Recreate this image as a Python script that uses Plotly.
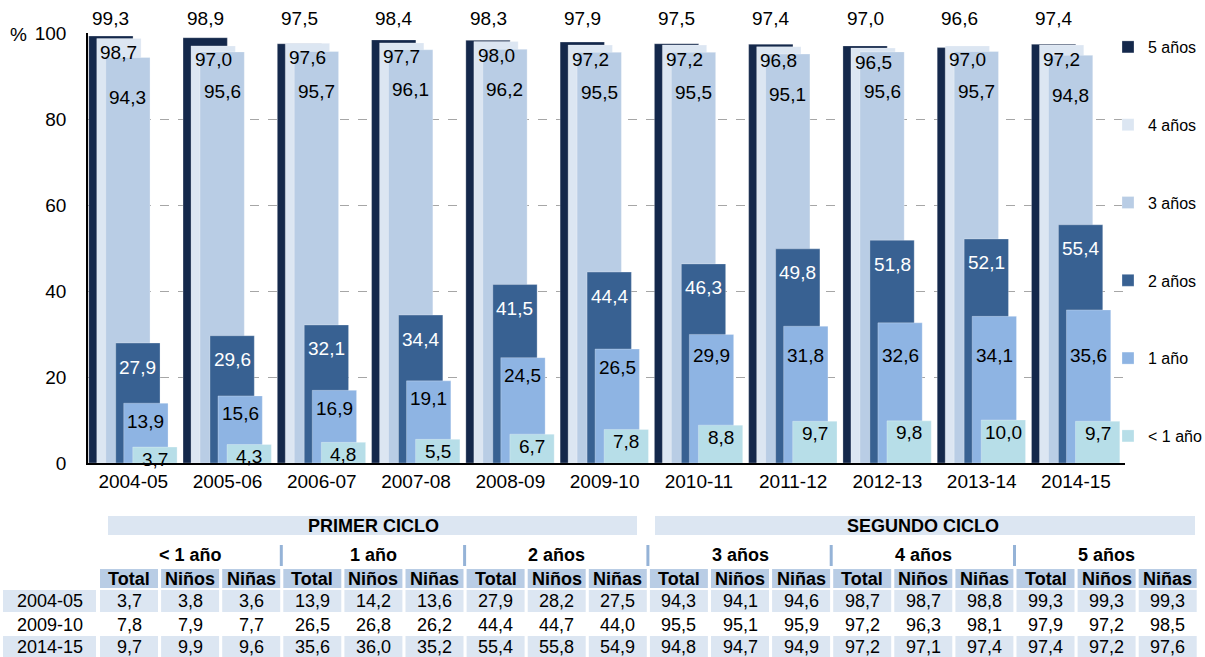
import plotly.graph_objects as go

# ---------------- data ----------------
years = ['2004-05', '2005-06', '2006-07', '2007-08', '2008-09', '2009-10',
         '2010-11', '2011-12', '2012-13', '2013-14', '2014-15']
series_names = ['5 años', '4 años', '3 años', '2 años', '1 año', '< 1 año']
v5 = [99.3, 98.9, 97.5, 98.4, 98.3, 97.9, 97.5, 97.4, 97.0, 96.6, 97.4]
v4 = [98.7, 97.0, 97.6, 97.7, 98.0, 97.2, 97.2, 96.8, 96.5, 97.0, 97.2]
v3 = [94.3, 95.6, 95.7, 96.1, 96.2, 95.5, 95.5, 95.1, 95.6, 95.7, 94.8]
v2 = [27.9, 29.6, 32.1, 34.4, 41.5, 44.4, 46.3, 49.8, 51.8, 52.1, 55.4]
v1 = [13.9, 15.6, 16.9, 19.1, 24.5, 26.5, 29.9, 31.8, 32.6, 34.1, 35.6]
v0 = [3.7, 4.3, 4.8, 5.5, 6.7, 7.8, 8.8, 9.7, 9.8, 10.0, 9.7]
y_ticks = [0, 20, 40, 60, 80, 100]

table_years = ['2004-05', '2009-10', '2014-15']
cycles = ['PRIMER CICLO', 'SEGUNDO CICLO']
age_groups = ['< 1 año', '1 año', '2 años', '3 años', '4 años', '5 años']
sub_headers = ['Total', 'Niños', 'Niñas']
row_2004 = [3.7, 3.8, 3.6, 13.9, 14.2, 13.6, 27.9, 28.2, 27.5,
            94.3, 94.1, 94.6, 98.7, 98.7, 98.8, 99.3, 99.3, 99.3]
row_2009 = [7.8, 7.9, 7.7, 26.5, 26.8, 26.2, 44.4, 44.7, 44.0,
            95.5, 95.1, 95.9, 97.2, 96.3, 98.1, 97.9, 97.2, 98.5]
row_2014 = [9.7, 9.9, 9.6, 35.6, 36.0, 35.2, 55.4, 55.8, 54.9,
            94.8, 94.7, 94.9, 97.2, 97.1, 97.4, 97.4, 97.2, 97.6]
table_rows = [row_2004, row_2009, row_2014]

# ---------------- styles ----------------
FONT = 'Liberation Sans, Arial, sans-serif'
colors = ['#14284B', '#DCE6F2', '#B9CDE5', '#386192', '#8EB4E3', '#B7DEE8']
offsets = [-0.472, -0.387, -0.292, -0.186, -0.101, -0.005]
BAR_W = 0.47
label_colors = ['black', 'black', 'black', 'white', 'black', 'black']
CH = 19  # chart font size

def fmt(v):
    return f'{v:.1f}'.replace('.', ',')

L, R, T, B = 88, 1125, 33, 463
W_FIG, H_FIG = 1205, 657

def fx(p):
    return (p - L) / (R - L)

def fy(p):
    return (B - p) / (B - T)

fig = go.Figure()
values = [v5, v4, v3, v2, v1, v0]
xs = list(range(len(years)))
for name, vals, col, off in zip(series_names, values, colors, offsets):
    fig.add_trace(go.Bar(
        x=xs, y=vals, name=name, width=BAR_W, offset=off,
        marker=dict(color=col, line=dict(color='rgba(255,255,255,0.35)', width=0.8)),
        legendgroup=name, hoverinfo='skip'))

# value labels
for k, (vals, off) in enumerate(zip(values, offsets)):
    for i, v in enumerate(vals):
        xc = i + off + BAR_W / 2
        if k == 0:
            y, ys = 100, 15
        elif k == 1:
            y, ys = v, -14
        elif k == 2:
            y, ys = v, -40
        elif k == 3:
            y, ys = v, -24
        elif k == 4:
            y, ys = min(v, 29.1), -18
        else:
            y, ys = v, -12
        fig.add_annotation(x=xc, y=y, xref='x', yref='y', yshift=ys, text=fmt(v),
                           showarrow=False, xanchor='center', yanchor='middle',
                           font=dict(family=FONT, size=CH, color=label_colors[k]))

# % sign
fig.add_annotation(xref='paper', yref='paper', x=fx(18), y=fy(34), text='%', showarrow=False,
                   xanchor='center', yanchor='middle', font=dict(family=FONT, size=CH, color='black'))

# ---------------- table ----------------
def rect(x0, y0, x1, y1, color):
    fig.add_shape(type='rect', xref='paper', yref='paper', x0=fx(x0), x1=fx(x1),
                  y0=fy(y1), y1=fy(y0), fillcolor=color, line_width=0, layer='below')

def text(xc, yc, s, bold=False):
    fig.add_annotation(xref='paper', yref='paper', x=fx(xc), y=fy(yc),
                       text=f'<b>{s}</b>' if bold else s, showarrow=False,
                       xanchor='center', yanchor='middle',
                       font=dict(family=FONT, size=18, color='black'))

LIGHT, MID, SEP = '#DCE6F2', '#B9CDE5', '#95B3D7'
X0, PITCH, CW = 100, 61.1, 58
# cycle bands
cyc_spans = [(108, 637), (655, 1195)]
for (a, b), name, g in zip(cyc_spans, cycles, [0, 9]):
    rect(a, 516, b, 535, LIGHT)
    text(X0 + g * PITCH + (9 * PITCH - 3) / 2, 526, name, bold=True)
# age group labels and separators
for g, name in enumerate(age_groups):
    left = X0 + g * 3 * PITCH
    text(left + (3 * PITCH - 3) / 2, 555, name, bold=True)
    if g > 0:
        rect(left - 3.5, 545, left - 0.5, 566, SEP)
# sub headers
for c in range(18):
    left = X0 + c * PITCH
    rect(left, 569, left + CW, 588, MID)
    text(left + CW / 2, 578.5, sub_headers[c % 3], bold=True)
# data rows
row_centers = [601, 625, 647]
for r, (yr, row) in enumerate(zip(table_years, table_rows)):
    yc = row_centers[r]
    if r != 1:
        rect(3, yc - 11, 96, yc + 11, LIGHT)
    text(50, yc, yr)
    for c, v in enumerate(row):
        left = X0 + c * PITCH
        if r != 1:
            rect(left, yc - 11, left + CW, yc + 11, LIGHT)
        text(left + CW / 2, yc, fmt(v))

fig.update_layout(
    width=W_FIG, height=H_FIG, barmode='overlay',
    margin=dict(l=L, r=W_FIG - R, t=T, b=H_FIG - B, pad=0, autoexpand=False),
    plot_bgcolor='white', paper_bgcolor='white',
    font=dict(family=FONT, size=CH, color='black'),
    showlegend=True,
    legend=dict(x=fx(1108), y=fy(30), xanchor='left', yanchor='top',
                font=dict(family=FONT, size=16, color='black'), maxheight=1,
                tracegroupgap=54, bgcolor='rgba(0,0,0,0)', traceorder='grouped'),
    hovermode=False,
    xaxis=dict(range=[-0.48, 10.52], tickvals=xs, ticktext=years, showgrid=False,
               zeroline=False, showline=True, linecolor='black', linewidth=1.5,
               ticks='', tickfont=dict(family=FONT, size=CH), automargin=False),
    yaxis=dict(range=[0, 100], tickvals=y_ticks, showgrid=True, gridcolor='#A6A6A6',
               griddash='dash', gridwidth=1, zeroline=False, showline=True,
               linecolor='black', linewidth=1.5, ticks='', ticklabelstandoff=16,
               tickfont=dict(family=FONT, size=CH), automargin=False),
)

fig.write_html('out.html', config={'displayModeBar': False},
               post_script="document.body.style.margin='0';document.body.style.overflow='hidden';")
